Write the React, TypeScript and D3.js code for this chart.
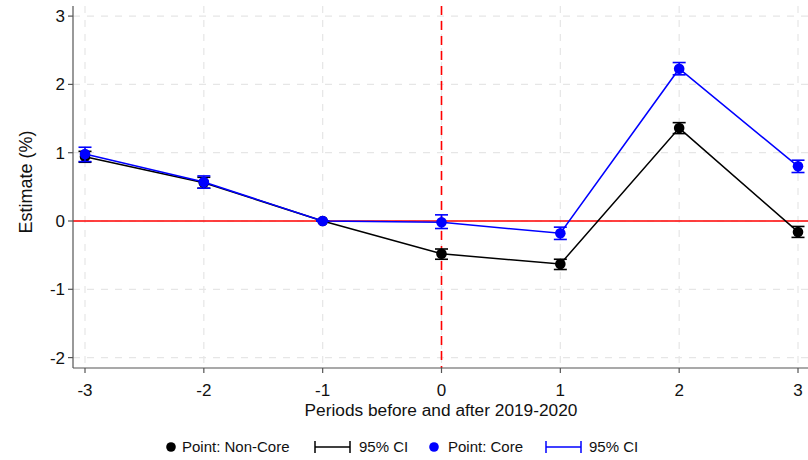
import React from "react";
import * as d3 from "d3";

// Event-study estimates by period
const periods = [-3, -2, -1, 0, 1, 2, 3];
const nonCoreEst = [0.94, 0.56, 0, -0.48, -0.63, 1.36, -0.16];
const nonCoreLo = [0.86, 0.48, 0, -0.56, -0.71, 1.28, -0.24];
const nonCoreHi = [1.02, 0.64, 0, -0.41, -0.56, 1.44, -0.08];
const coreEst = [0.98, 0.57, 0, -0.02, -0.18, 2.23, 0.8];
const coreLo = [0.87, 0.48, 0, -0.11, -0.27, 2.14, 0.71];
const coreHi = [1.08, 0.66, 0, 0.09, -0.09, 2.32, 0.89];

const yTicks = [-2, -1, 0, 1, 2, 3];
const xTicks = [-3, -2, -1, 0, 1, 2, 3];

const W = 808;
const H = 460;
const FONT = "'Liberation Sans', Arial, sans-serif";

export default function App() {
  const left = 73;
  const right = 808;
  const top = 6;
  const bottom = 368;

  const x = d3.scaleLinear().domain([-3, 3]).range([85, 798]);
  const y = d3.scaleLinear().domain([0, 1]).range([221, 152.7]);

  const line = d3
    .line<[number, number]>()
    .x((d) => x(d[0]))
    .y((d) => y(d[1]));

  const series = [
    { color: "#000000", est: nonCoreEst, lo: nonCoreLo, hi: nonCoreHi },
    { color: "#0000ff", est: coreEst, lo: coreLo, hi: coreHi },
  ];

  const cap = 6.5;
  const r = 5.3;

  return (
    <svg
      width={W}
      height={H}
      style={{ position: "absolute", left: 0, top: 0, background: "#fff" }}
      fontFamily={FONT}
    >
      <rect width={W} height={H} fill="#fff" />
      {/* grid */}
      {xTicks.map((t) => (
        <line
          key={"gx" + t}
          x1={x(t)}
          x2={x(t)}
          y1={top}
          y2={bottom}
          stroke="#e6e6e6"
          strokeWidth={1.2}
          strokeDasharray="7,7"
        />
      ))}
      {yTicks.map((t) => (
        <line
          key={"gy" + t}
          x1={left}
          x2={right}
          y1={y(t)}
          y2={y(t)}
          stroke="#e6e6e6"
          strokeWidth={1.2}
          strokeDasharray="7,7"
        />
      ))}
      {/* reference lines */}
      <line x1={left} x2={right} y1={y(0)} y2={y(0)} stroke="#ff0000" strokeWidth={1.3} />
      <line
        x1={x(0)}
        x2={x(0)}
        y1={top}
        y2={bottom}
        stroke="#ff0000"
        strokeWidth={1.6}
        strokeDasharray="9,6"
      />
      {/* series */}
      {series.map((s, si) => (
        <g key={"s" + si}>
          <path
            d={line(periods.map((p, i) => [p, s.est[i]] as [number, number])) || ""}
            fill="none"
            stroke={s.color}
            strokeWidth={1.5}
          />
          {periods.map((p, i) => (
            <g key={i} stroke={s.color} strokeWidth={1.6}>
              <line x1={x(p)} x2={x(p)} y1={y(s.lo[i])} y2={y(s.hi[i])} />
              <line x1={x(p) - cap} x2={x(p) + cap} y1={y(s.lo[i])} y2={y(s.lo[i])} />
              <line x1={x(p) - cap} x2={x(p) + cap} y1={y(s.hi[i])} y2={y(s.hi[i])} />
            </g>
          ))}
          {periods.map((p, i) => (
            <circle key={"c" + i} cx={x(p)} cy={y(s.est[i])} r={r} fill={s.color} />
          ))}
        </g>
      ))}
      {/* axes */}
      <line x1={left} x2={left} y1={top} y2={bottom} stroke="#555" strokeWidth={1.2} />
      <line x1={left} x2={right} y1={bottom} y2={bottom} stroke="#555" strokeWidth={1.2} />
      {yTicks.map((t) => (
        <g key={"yt" + t}>
          <line x1={left - 5} x2={left} y1={y(t)} y2={y(t)} stroke="#555" strokeWidth={1.2} />
          <text
            x={left - 8}
            y={y(t)}
            dy="0.35em"
            textAnchor="end"
            fontSize={17}
            fill="#111"
          >
            {t}
          </text>
        </g>
      ))}
      {xTicks.map((t) => (
        <g key={"xt" + t}>
          <line x1={x(t)} x2={x(t)} y1={bottom} y2={bottom + 5} stroke="#555" strokeWidth={1.2} />
          <text x={x(t)} y={bottom + 28} textAnchor="middle" fontSize={17} fill="#111">
            {t}
          </text>
        </g>
      ))}
      <text x={441} y={416} textAnchor="middle" fontSize={17.3} fill="#111">
        Periods before and after 2019-2020
      </text>
      <text
        transform={`translate(32,182) rotate(-90)`}
        textAnchor="middle"
        fontSize={18}
        fill="#111"
      >
        Estimate (%)
      </text>
      {/* legend */}
      <g fontSize={15} fill="#111">
        <circle cx={171} cy={447} r={4.8} fill="#000" />
        <text x={182} y={452}>Point: Non-Core</text>
        <g stroke="#000" strokeWidth={1.5}>
          <line x1={315} x2={350} y1={447} y2={447} />
          <line x1={315} x2={315} y1={441} y2={453} />
          <line x1={350} x2={350} y1={441} y2={453} />
        </g>
        <text x={359} y={452}>95% CI</text>
        <circle cx={434} cy={447} r={4.8} fill="#0000ff" />
        <text x={448} y={452}>Point: Core</text>
        <g stroke="#0000ff" strokeWidth={1.5}>
          <line x1={546} x2={581} y1={447} y2={447} />
          <line x1={546} x2={546} y1={441} y2={453} />
          <line x1={581} x2={581} y1={441} y2={453} />
        </g>
        <text x={589} y={452}>95% CI</text>
      </g>
    </svg>
  );
}
